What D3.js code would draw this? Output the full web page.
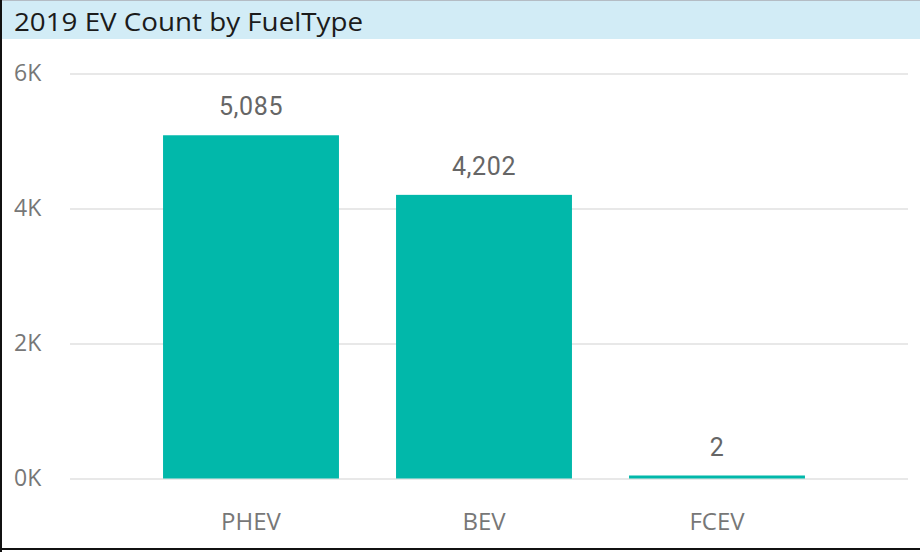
<!DOCTYPE html>
<html lang="en">
<head>
<meta charset="UTF-8">
<title>2019 EV Count by FuelType</title>
<style>
    body {
        margin: 0;
        background: #fff;
    }
    #chart svg {
        display: block;
    }
</style>
<script src="https://d3js.org/d3.v7.min.js"></script>
</head>
<body>
<div id="chart"></div>
<script>
// data
var fuelTypes = ["PHEV", "BEV", "FCEV"];
var evCounts = [5085, 4202, 2];
var yTicks = [0, 2000, 4000, 6000];

var W = 920, H = 552;
var titleH = 39;

var svg = d3.select("#chart")
  .append("svg")
    .attr("width", W)
    .attr("height", H);

// title band
svg.append("rect")
    .attr("x", 0).attr("y", 0)
    .attr("width", W).attr("height", titleH)
    .attr("fill", "#d2ecf6");
svg.append("line")
    .attr("x1", 0).attr("x2", W)
    .attr("y1", 0.5).attr("y2", 0.5)
    .attr("stroke", "#b4bcc4");
svg.append("text")
    .attr("x", 14)
    .attr("y", 31)
    .attr("font-family", "'Open Sans', sans-serif")
    .attr("font-size", 26)
    .attr("fill", "#1b1b1b")
    .attr("textLength", 349)
    .attr("lengthAdjust", "spacingAndGlyphs")
    .text("2019 EV Count by FuelType");

// outer frame (left + bottom only visible)
svg.append("line")
    .attr("x1", 1).attr("x2", 1)
    .attr("y1", 0).attr("y2", H)
    .attr("stroke", "#111").attr("stroke-width", 2);
svg.append("line")
    .attr("x1", 0).attr("x2", W)
    .attr("y1", 549).attr("y2", 549)
    .attr("stroke", "#111").attr("stroke-width", 2);

// scales
var x = d3.scaleBand()
    .domain(fuelTypes)
    .range([134.5, 833.5])
    .paddingInner(0.245)
    .paddingOuter(0.1225);

var y = d3.scaleLinear()
    .domain([0, 6000])
    .range([478.5, 73.5]);

// gridlines + y labels
var yAxis = svg.append("g")
    .call(d3.axisLeft(y)
      .tickValues(yTicks)
      .tickSize(0)
      .tickPadding(0)
      .tickFormat(function(d) { return (d / 1000) + "K"; }));
yAxis.select(".domain").remove();
yAxis.selectAll("text")
    .attr("x", 14)
    .attr("text-anchor", "start")
    .attr("font-family", "'Open Sans', sans-serif")
    .attr("font-size", 23)
    .attr("fill", "#777");
yAxis.selectAll(".tick").append("line")
    .attr("x1", 70).attr("x2", 908)
    .attr("stroke", "#e8e8e8")
    .attr("stroke-width", 2);

// bars (tiny values get a minimum visible height like the reference)
svg.selectAll("rect.bar")
  .data(fuelTypes)
  .enter()
  .append("rect")
    .attr("class", "bar")
    .attr("x", function(d) { return x(d); })
    .attr("width", x.bandwidth())
    .attr("y", function(d, i) { return Math.min(y(evCounts[i]), y(0) - 3); })
    .attr("height", function(d, i) { return Math.max(y(0) - y(evCounts[i]), 3); })
    .attr("fill", "#01b8aa");

// data labels
svg.selectAll("text.lbl")
  .data(fuelTypes)
  .enter()
  .append("text")
    .attr("class", "lbl")
    .attr("x", function(d) { return x(d) + x.bandwidth() / 2; })
    .attr("y", function(d, i) { return Math.min(y(evCounts[i]), y(0) - 3) - 20; })
    .attr("text-anchor", "middle")
    .attr("font-family", "Roboto, sans-serif")
    .attr("font-size", 25)
    .attr("letter-spacing", 0.6)
    .attr("fill", "#666")
    .text(function(d, i) { return d3.format(",")(evCounts[i]); });

// x axis labels
var xAxis = svg.append("g")
    .attr("transform", "translate(0,478.5)")
    .call(d3.axisBottom(x).tickSize(0).tickPadding(0));
xAxis.select(".domain").remove();
xAxis.selectAll("text")
    .attr("y", 51)
    .attr("dy", 0)
    .attr("font-family", "'Open Sans', sans-serif")
    .attr("font-size", 24)
    .attr("fill", "#777");
</script>
</body>
</html>
